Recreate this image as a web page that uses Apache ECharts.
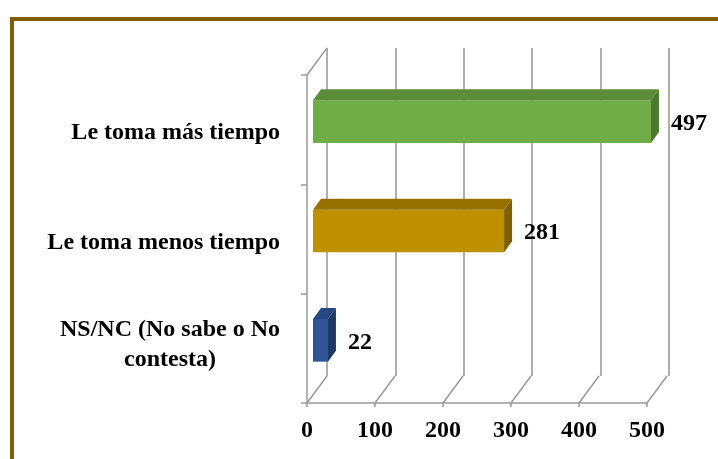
<!DOCTYPE html>
<html><head><meta charset="utf-8">
<script src="https://cdn.jsdelivr.net/npm/echarts@6/dist/echarts.min.js"></script>
<style>html,body{margin:0;padding:0;background:#fff}#c{width:718px;height:459px}</style>
</head><body><div id="c"></div>
<script>
const categories = ['Le toma más tiempo', 'Le toma menos tiempo', 'NS/NC (No sabe o No contesta)'];
const values = [497, 281, 22];
const axisTickValues = [0, 100, 200, 300, 400, 500];
const frontColors = ['#70ad47', '#bf9000', '#2f5597'];
const topColors = ['#5a8c3a', '#977100', '#25467f'];
const sideColors = ['#4b7a2e', '#7f6000', '#1f3864'];

const FONT = '"Liberation Serif", "Times New Roman", serif';
const GRID_COLOR = '#9a9a9a';
const DEPTH_X = 20, DEPTH_Y = 27;

const chart = echarts.init(document.getElementById('c'), null, {renderer: 'canvas'});

const option = {
  animation: false,
  backgroundColor: '#fff',
  graphic: [{
    type: 'rect', silent: true, z: -10,
    shape: {x: 12, y: 19, width: 800, height: 600},
    style: {fill: 'none', stroke: '#7f6000', lineWidth: 4}
  }],
  grid: [
    {left: 307, right: 71, top: 75, bottom: 56},
    {left: 327, right: 49, top: 48, bottom: 83}
  ],
  xAxis: [
    {
      gridIndex: 0, type: 'value', min: 0, max: 500, interval: 100,
      axisLine: {show: true, lineStyle: {color: GRID_COLOR, width: 1.5}},
      axisTick: {show: true, length: 4, lineStyle: {color: GRID_COLOR, width: 1.5}},
      splitLine: {show: false},
      axisLabel: {margin: 16, color: '#000', fontFamily: FONT, fontWeight: 'bold', fontSize: 24,
        formatter: v => String(v)}
    },
    {
      gridIndex: 1, type: 'value', min: 0, max: 500, interval: 100,
      axisLine: {show: false}, axisTick: {show: false}, axisLabel: {show: false},
      splitLine: {show: true, lineStyle: {color: GRID_COLOR, width: 1.6}}
    }
  ],
  yAxis: [
    {
      gridIndex: 0, type: 'category', data: categories, inverse: true,
      axisLine: {show: true, lineStyle: {color: GRID_COLOR, width: 1.5}},
      axisTick: {show: true, length: 6, lineStyle: {color: GRID_COLOR, width: 1.5}},
      axisLabel: {
        margin: 27, color: '#000', padding: [7, 0, 0, 0],
        formatter: v => v.split(' contesta)').length > 1
          ? '{c|' + v.replace(' contesta)', '') + '}\n{c|contesta)}\n{s| }'
          : '{c|' + v + '}',
        rich: {
          c: {align: 'center', fontFamily: FONT, fontWeight: 'bold', fontSize: 24, lineHeight: 30, color: '#000'},
          s: {fontSize: 1, lineHeight: 14}
        }
      }
    },
    {
      gridIndex: 1, type: 'category', data: categories, inverse: true,
      show: false
    }
  ],
  series: [
    {
      type: 'custom', xAxisIndex: 0, yAxisIndex: 0, z: 1, silent: true,
      data: axisTickValues.map(v => [v]),
      encode: {x: 0},
      renderItem: function (params, api) {
        const v = api.value(0);
        const p = api.coord([v, 0]);
        const cs = params.coordSys;
        const bottom = cs.y + cs.height;
        const children = [{
          type: 'line',
          shape: {x1: p[0], y1: bottom, x2: p[0] + DEPTH_X, y2: bottom - DEPTH_Y},
          style: {stroke: GRID_COLOR, lineWidth: 1.5}
        }];
        if (v === 0) {
          children.push({
            type: 'line',
            shape: {x1: p[0], y1: cs.y, x2: p[0] + DEPTH_X, y2: cs.y - DEPTH_Y},
            style: {stroke: GRID_COLOR, lineWidth: 1.5}
          });
        }
        return {type: 'group', children: children};
      }
    },
    {
      type: 'custom', xAxisIndex: 0, yAxisIndex: 0, z: 5, silent: true,
      data: values.map((v, i) => [i, v]),
      encode: {x: 1, y: 0},
      renderItem: function (params, api) {
        const idx = api.value(0);
        const v = api.value(1);
        const start = api.coord([0, idx]);
        const end = api.coord([v, idx]);
        const band = api.size([0, 1])[1];
        const h = band * 0.39;
        const ox = 6, oy = 8, dx = 8, dy = 11;
        const x0 = start[0] + ox, x1 = end[0] + ox;
        const yc = start[1] - oy;
        const y0 = yc - h / 2, y1 = yc + h / 2;
        return {
          type: 'group',
          children: [
            {type: 'rect', shape: {x: x0, y: y0, width: x1 - x0, height: h},
              style: {fill: frontColors[idx]}},
            {type: 'polygon', shape: {points: [[x0, y0], [x0 + dx, y0 - dy], [x1 + dx, y0 - dy], [x1, y0]]},
              style: {fill: topColors[idx]}},
            {type: 'polygon', shape: {points: [[x1, y0], [x1 + dx, y0 - dy], [x1 + dx, y1 - dy], [x1, y1]]},
              style: {fill: sideColors[idx]}},
            {type: 'text', style: {text: String(v), x: x1 + dx + 12, y: yc + 2, verticalAlign: 'middle', align: 'left',
              font: 'bold 24px ' + FONT, fill: '#000'}}
          ]
        };
      }
    }
  ]
};
chart.setOption(option);
</script>
</body></html>
